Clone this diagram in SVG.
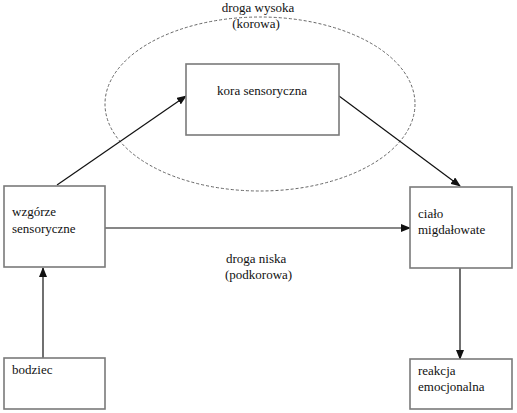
<svg xmlns="http://www.w3.org/2000/svg" width="517" height="413" viewBox="0 0 517 413">
<defs>
<style>
.box{fill:#fff;stroke:#7a7a7a;stroke-width:1.6}
.t{font-size:13px;fill:#111}
.c{stroke:#111;stroke-width:1.2;fill:none}
</style>
<marker id="ah" markerWidth="10" markerHeight="8" refX="9" refY="4" orient="auto" markerUnits="userSpaceOnUse">
<path d="M0,0 L10,4 L0,8 z" fill="#111"/>
</marker>
</defs>
<rect width="517" height="413" fill="#fff"/>
<g font-family="Liberation Serif, DejaVu Serif, serif">
<ellipse cx="260" cy="104" rx="155" ry="87" fill="none" stroke="#666" stroke-width="1" stroke-dasharray="3,2"/>
<text class="t" x="258" y="12" text-anchor="middle">droga wysoka</text>
<text class="t" x="256" y="28" text-anchor="middle">(korowa)</text>
<text class="t" x="226" y="263">droga niska</text>
<text class="t" x="225" y="279">(podkorowa)</text>
<g id="connectors">
<line class="c" x1="57" y1="185" x2="186" y2="96" marker-end="url(#ah)"/>
<line class="c" x1="339" y1="96" x2="460" y2="186" marker-end="url(#ah)"/>
<line class="c" x1="105" y1="228" x2="410" y2="228" marker-end="url(#ah)"/>
<line class="c" x1="43" y1="358" x2="43" y2="268" marker-end="url(#ah)"/>
<line class="c" x1="460" y1="268" x2="460" y2="359" marker-end="url(#ah)"/>
</g>
<g id="kora"><rect class="box" x="186" y="64" width="153" height="71"/><text class="t" x="262" y="95" text-anchor="middle">kora sensoryczna</text></g>
<g id="wzgorze"><rect class="box" x="4" y="186" width="101" height="81"/><text class="t" x="12" y="216">wzgórze</text><text class="t" x="12" y="233">sensoryczne</text></g>
<g id="cialo"><rect class="box" x="410" y="187" width="102" height="81"/><text class="t" x="418" y="218">ciało</text><text class="t" x="418" y="234">migdałowate</text></g>
<g id="bodziec"><rect class="box" x="4" y="358" width="101" height="51"/><text class="t" x="12" y="374">bodziec</text></g>
<g id="reakcja"><rect class="box" x="410" y="359" width="102" height="50"/><text class="t" x="418" y="375">reakcja</text><text class="t" x="418" y="391">emocjonalna</text></g>
</g>
</svg>
